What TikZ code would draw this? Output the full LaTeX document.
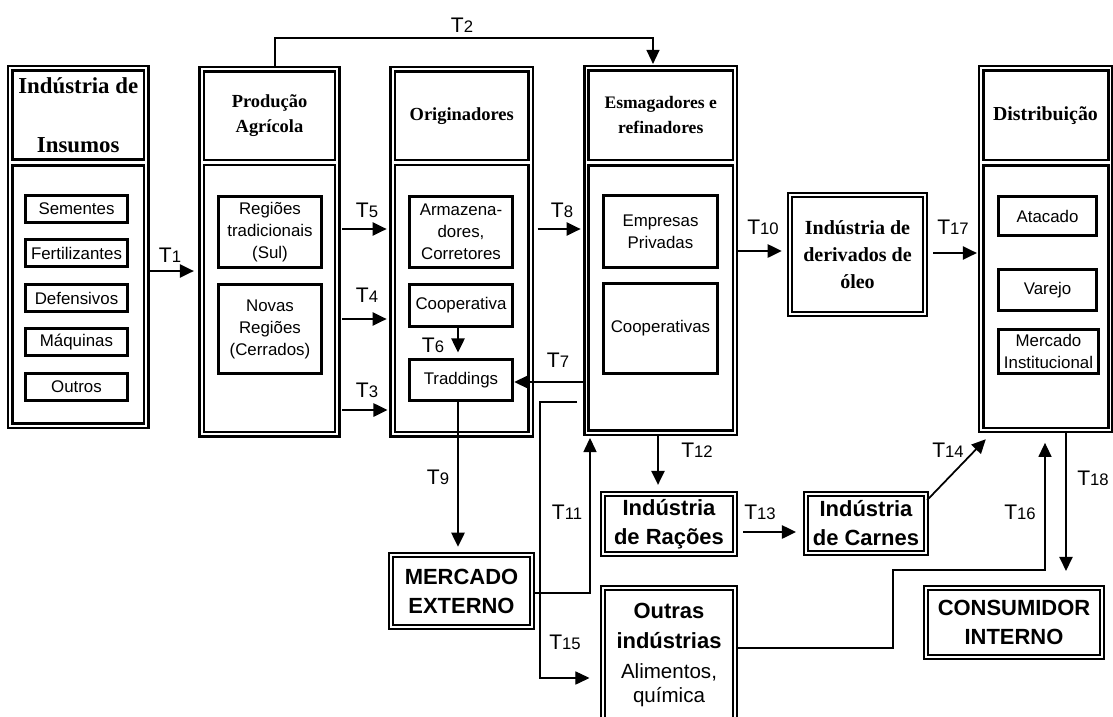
\documentclass[tikz,border=0pt]{standalone}
\usepackage{fontspec}
\setmainfont{Liberation Serif}
\newfontfamily\arialf{Liberation Sans}
\usetikzlibrary{arrows.meta,fit}

\tikzset{
  colout/.style={draw, line width=1.4pt, inner sep=0pt},
  colin/.style={draw, line width=1.7pt, inner sep=0pt},
  item/.style={draw, line width=1.7pt, inner sep=0pt, align=center,
    font=\arialf\fontsize{9.6}{12.5}\selectfont},
  dbox/.style={draw, double, double distance=0.9pt, line width=1.4pt,
    inner sep=0pt, align=center},
  bigsans/.style={font=\arialf\bfseries\fontsize{12.5}{16.5}\selectfont},
  flow/.style={line width=1.2pt, -{Triangle[length=8pt,width=7.5pt]}},
  thinflow/.style={line width=0.6pt, -{Triangle[length=8pt,width=7.5pt]}},
  tlab/.style={font=\arialf\fontsize{12}{13}\selectfont, inner sep=0pt},
  hd/.style={font=\bfseries\fontsize{10.5}{14.2}\selectfont, align=center},
}
\newcommand{\trans}[1]{T{\fontsize{9.5}{10}\selectfont #1}}

\begin{document}
\begin{tikzpicture}[x=0.02cm, y=-0.02cm]
\clip (0,0) rectangle (1113,717);

% the five links of the chain
\node[colout, fit={(8,66) (148.5,428)}] (insumos) {};
\node[colin, fit={(12.5,70.5) (144,159.5)},
  label={[hd, font=\bfseries\fontsize{13}{33.4}\selectfont]center:Indústria de\\Insumos}] (insumos-h) {};
\node[colin, fit={(12.5,165.5) (144,423.5)}] (insumos-b) {};

\node[colout, fit={(199.5,67) (339.5,436.5)}] (prod) {};
\node[colin, fit={(204,71.5) (335,160)},
  label={[hd]center:Produção\\Agrícola}] (prod-h) {};
\node[colin, fit={(204,165) (335,432)}] (prod-b) {};

\node[colout, fit={(390.5,67) (533,436.5)}] (orig) {};
\node[colin, fit={(395,71.5) (528.5,160)},
  label={[hd]center:Originadores}] (orig-h) {};
\node[colin, fit={(395,165) (528.5,432)}] (orig-b) {};

\node[colout, fit={(584.5,66) (737,435)}] (esmag) {};
\node[colin, fit={(588.5,70.5) (733,160)},
  label={[hd, font=\bfseries\fontsize{10}{14.2}\selectfont]center:Esmagadores e\\refinadores}] (esmag-h) {};
\node[colin, fit={(588.5,165.5) (733,430.5)}] (esmag-b) {};

\node[colout, fit={(979,66) (1112,432)}] (distrib) {};
\node[colin, fit={(983,70.5) (1108,160)},
  label={[hd, font=\bfseries\fontsize{11.3}{14}\selectfont]center:Distribuição}] (distrib-h) {};
\node[colin, fit={(983,165.5) (1108,428)}] (distrib-b) {};

% inner boxes
\node[item, minimum width=2.05cm, minimum height=0.55cm] (sem) at (76.5,209) {Sementes};
\node[item, minimum width=2.05cm, minimum height=0.55cm] (fert) at (76.5,253) {Fertilizantes};
\node[item, minimum width=2.05cm, minimum height=0.55cm] (def) at (76.5,298) {Defensivos};
\node[item, minimum width=2.05cm, minimum height=0.55cm] (maq) at (76.5,342) {Máquinas};
\node[item, minimum width=2.05cm, minimum height=0.55cm] (outros) at (76.5,387) {Outros};

\node[item, minimum width=2.07cm, minimum height=1.43cm] (regtrad) at (270,232) {Regiões\\tradicionais\\(Sul)};
\node[item, minimum width=2.07cm, minimum height=1.79cm] (regnov) at (270,329) {Novas\\Regiões\\(Cerrados)};

\node[item, minimum width=2.07cm, minimum height=1.43cm] (armaz) at (461,232) {Armazena-\\dores,\\Corretores};
\node[item, minimum width=2.07cm, minimum height=0.85cm] (coop) at (461,305.5) {Cooperativa};
\node[item, minimum width=2.07cm, minimum height=0.83cm] (tradd) at (461,380) {Traddings};

\node[item, minimum width=2.29cm, minimum height=1.45cm] (empr) at (660.5,231.5) {Empresas\\Privadas};
\node[item, minimum width=2.29cm, minimum height=1.81cm] (coops) at (660.5,328.5) {Cooperativas};

\node[item, minimum width=1.97cm, minimum height=0.79cm] (atac) at (1047.5,216) {Atacado};
\node[item, minimum width=1.97cm, minimum height=0.83cm] (varejo) at (1047.5,290) {Varejo};
\node[item, minimum width=2.01cm, minimum height=0.89cm] (merinst) at (1048.5,351.5) {Mercado\\Institucional};

% outer boxes
\node[dbox, minimum width=2.7cm, minimum height=2.38cm,
  font=\bfseries\fontsize{11.4}{15.3}\selectfont] (deriv) at (857.5,254.5) {Indústria de\\derivados de\\óleo};
\node[dbox, bigsans, minimum width=2.64cm, minimum height=1.2cm] (racoes) at (669,524) {Indústria\\de Rações};
\node[dbox, bigsans, minimum width=2.4cm, minimum height=1.18cm] (carnes) at (866,523.5) {Indústria\\de Carnes};
\node[dbox, bigsans, minimum width=2.82cm, minimum height=1.44cm] (mext) at (461.5,591) {MERCADO\\EXTERNO};
\node[dbox, minimum width=2.64cm, minimum height=2.68cm,
  font=\arialf\fontsize{12.5}{14}\selectfont] (outras) at (669,655)
  {{\bfseries Outras}\\[3pt]{\bfseries indústrias}\\[3pt]{\fontsize{11.7}{14}\selectfont Alimentos,}\\{\fontsize{11.7}{14}\selectfont química}};
\node[dbox, bigsans, minimum width=3.52cm, minimum height=1.38cm] (consum) at (1014,622.5) {CONSUMIDOR\\INTERNO};

% transactions
\coordinate (t15s) at (577,402);
\draw[flow, shorten >=2.5pt] (insumos.east |- 0,271) -- (prod.west |- 0,271);
\draw[thinflow, shorten >=0.5pt] (prod.north -| 275,0) |- (653,38) -- (esmag.north -| 653,0);
\draw[flow, shorten <=1pt, shorten >=1pt] (prod.east |- 0,410) -- (orig.west |- 0,410);
\draw[flow, shorten <=1pt, shorten >=1.5pt] (prod.east |- 0,319) -- (orig.west |- 0,319);
\draw[flow, shorten <=1pt, shorten >=1.5pt] (prod.east |- 0,229) -- (orig.west |- 0,229);
\draw[flow, shorten >=3pt] (coop.south -| 458,0) -- (tradd.north -| 458,0);
\draw[flow, line width=0.9pt] (esmag.west |- 0,382) -- (tradd.east |- 0,382);
\draw[flow, shorten <=2pt, shorten >=1.5pt] (orig.east |- 0,229) -- (esmag.west |- 0,229);
\draw[flow, shorten >=4pt] (tradd.south -| 458,0) -- (mext.north -| 458,0);
\draw[flow, shorten >=4pt] (esmag.east |- 0,251) -- (deriv.west |- 0,251);
\draw[thinflow, shorten >=1pt] (mext.east |- 0,593) -| (esmag.south -| 590,0);
\draw[flow, shorten >=4.5pt] (esmag.south -| 658,0) -- (racoes.north -| 658,0);
\draw[flow, shorten <=4pt, shorten >=5pt] (racoes.east |- 0,532) -- (carnes.west |- 0,532);
\draw[flow, line width=1pt] (carnes.east |- 0,500) -- ([shift={(8,6)}]distrib.south west);
\draw[thinflow, shorten >=7pt] (t15s) -| (540,678) -- (outras.west |- 0,678);
\draw[thinflow, shorten >=5.5pt] (outras.east |- 0,648) -- (893,648) |- (1045,570) -- (distrib.south -| 1045,0);
\draw[flow, shorten <=4pt, shorten >=0.5pt] (deriv.east |- 0,253) -- (distrib.west |- 0,253);
\draw[thinflow, line width=0.9pt, shorten >=9pt] (distrib.south -| 1066,0) -- (consum.north -| 1066,0);

% transaction labels
\node[tlab] (lt1) at (170,255) {\trans{1}};
\node[tlab] (lt2) at (462,25) {\trans{2}};
\node[tlab] (lt3) at (367,390) {\trans{3}};
\node[tlab] (lt4) at (367,295) {\trans{4}};
\node[tlab] (lt5) at (367,210) {\trans{5}};
\node[tlab] (lt6) at (433,345) {\trans{6}};
\node[tlab] (lt7) at (558,360) {\trans{7}};
\node[tlab] (lt8) at (562,210) {\trans{8}};
\node[tlab] (lt9) at (438,477) {\trans{9}};
\node[tlab] (lt10) at (763,227) {\trans{10}};
\node[tlab] (lt11) at (567,512) {\trans{11}};
\node[tlab] (lt12) at (697,450) {\trans{12}};
\node[tlab] (lt13) at (760,512) {\trans{13}};
\node[tlab] (lt14) at (948,450) {\trans{14}};
\node[tlab] (lt15) at (565,642) {\trans{15}};
\node[tlab] (lt16) at (1020,512) {\trans{16}};
\node[tlab] (lt17) at (953,227) {\trans{17}};
\node[tlab] (lt18) at (1093,478) {\trans{18}};
\end{tikzpicture}
\end{document}
